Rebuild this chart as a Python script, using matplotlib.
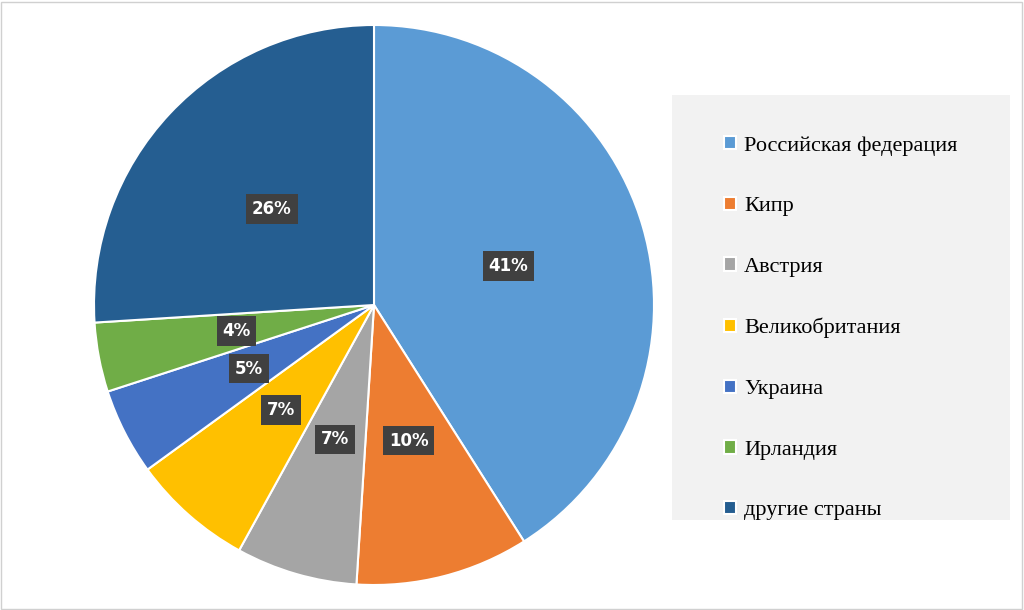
import matplotlib
matplotlib.use("Agg")
import matplotlib.pyplot as plt
from matplotlib.patches import Rectangle

countries = ["Российская федерация", "Кипр", "Австрия", "Великобритания",
             "Украина", "Ирландия", "другие страны"]
shares = [41, 10, 7, 7, 5, 4, 26]
colors = ["#5B9BD5", "#ED7D31", "#A5A5A5", "#FFC000", "#4472C4", "#70AD47", "#255E91"]

W, H = 1024, 610
fig = plt.figure(figsize=(W / 100, H / 100), dpi=100)
fig.patches.append(Rectangle((1 / W, 1 / H), 1 - 3 / W, 1 - 3 / H, transform=fig.transFigure,
                             fill=False, edgecolor="#d0d0d0", lw=1))

cx, cy, r = 374, 305, 280
ax = fig.add_axes([(cx - r) / W, 1 - (cy + r) / H, 2 * r / W, 2 * r / H])
wedges, texts, autotexts = ax.pie(
    shares, colors=colors, startangle=90, counterclock=False,
    autopct=lambda p: f"{p:.0f}%", pctdistance=0.5,
    wedgeprops=dict(edgecolor="white", linewidth=1.5))
for t in autotexts:
    t.set_color("white")
    t.set_fontweight("bold")
    t.set_fontsize(12)
    t.set_bbox(dict(boxstyle="square,pad=0.35", facecolor="#404040", edgecolor="none"))
ax.set_xlim(-1, 1)
ax.set_ylim(-1, 1)
ax.set_aspect("equal")
ax.axis("off")

# legend background
fig.patches.append(Rectangle((672 / W, 1 - 520 / H), 338 / W, 425 / H, transform=fig.transFigure,
                             facecolor="#f2f2f2", edgecolor="none", zorder=0))
leg = fig.legend(wedges, countries, loc="upper left",
                 bbox_to_anchor=(704 / W, 1 - 116 / H), frameon=False,
                 prop={"family": "Liberation Serif", "size": 16},
                 labelspacing=1.85, handlelength=0.55, handleheight=0.55,
                 handletextpad=0.35)
plt.savefig("out.png", dpi=100)
